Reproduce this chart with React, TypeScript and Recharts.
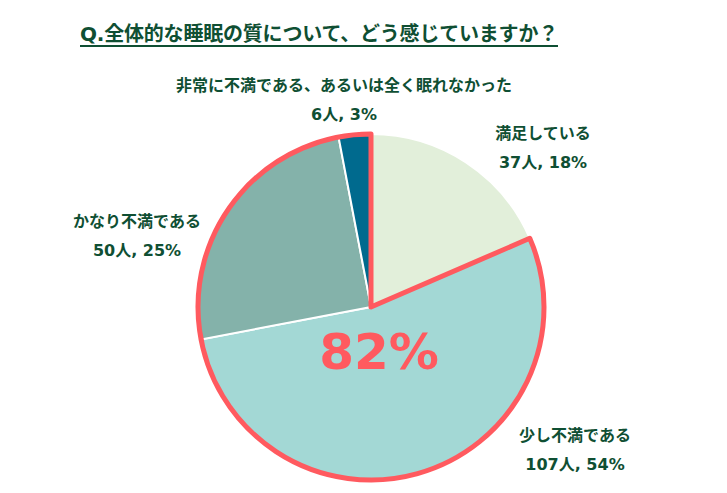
import { PieChart, Pie, Cell } from 'recharts';

const title = 'Q.全体的な睡眠の質について、どう感じていますか？';

// 回答カテゴリと人数（時計回り、12時の位置から）
const categories = ['満足している', '少し不満である', 'かなり不満である', '非常に不満である、あるいは全く眠れなかった'];
const counts = [37, 107, 50, 6];
const percents = [18, 54, 25, 3];
const COLORS = ['#E2EFDA', '#A3D8D5', '#84B2AA', '#006A8E'];

// 不満系の合計（82%）を囲む枠用
const groupNames = ['満足', '不満計'];
const groupCounts = [37, 163];
const highlightLabel = '82%';

const TEXT = '#0F4F33';
const RED = '#FF5A5F';
const FONT = '"DejaVu Sans", "Noto Sans CJK JP", sans-serif';

const pieData = categories.map((name, i) => ({ name, value: counts[i], pct: percents[i] }));
const groupData = groupNames.map((name, i) => ({ name, value: groupCounts[i] }));

// ラベル位置（中心x, 1行目y）
const labelPos = [
  { x: 543, y: 119 },
  { x: 575, y: 421 },
  { x: 137, y: 207 },
  { x: 344, y: 71 },
];

export default function App() {
  return (
    <div style={{ position: 'absolute', left: 0, top: 0, width: 727, height: 493, background: '#fff', fontFamily: FONT }}>
      <div
        style={{
          position: 'absolute',
          left: 80,
          top: 18,
          fontSize: 20,
          fontWeight: 'bold',
          color: TEXT,
          textDecoration: 'underline',
          textUnderlineOffset: 4,
          textDecorationThickness: 2,
          whiteSpace: 'nowrap',
          letterSpacing: -0.2,
        }}
      >
        {title}
      </div>
      <PieChart width={727} height={493} margin={{ top: 0, right: 0, bottom: 0, left: 0 }} style={{ position: 'absolute', left: 0, top: 0 }}>
        <Pie
          data={pieData}
          dataKey="value"
          nameKey="name"
          cx={371}
          cy={307}
          outerRadius={173}
          startAngle={90}
          endAngle={-270}
          stroke="#fff"
          strokeWidth={2}
          isAnimationActive={false}
        >
          {pieData.map((entry, index) => (
            <Cell key={`cell-${index}`} fill={COLORS[index]} />
          ))}
        </Pie>
        <Pie
          data={groupData}
          dataKey="value"
          nameKey="name"
          cx={371}
          cy={307}
          outerRadius={173}
          startAngle={90}
          endAngle={-270}
          fill="none"
          isAnimationActive={false}
        >
          {groupData.map((entry, index) => (
            <Cell
              key={`g-${index}`}
              fill="none"
              stroke={index === 1 ? RED : 'none'}
              strokeWidth={index === 1 ? 5 : 0}
              strokeLinejoin="round"
            />
          ))}
        </Pie>
      </PieChart>
      {pieData.map((d, i) => (
        <div
          key={`lbl-${i}`}
          style={{
            position: 'absolute',
            left: labelPos[i].x - 200,
            top: labelPos[i].y,
            width: 400,
            textAlign: 'center',
            fontSize: 16,
            fontWeight: 'bold',
            color: TEXT,
            lineHeight: '29px',
          }}
        >
          <div>{d.name}</div>
          <div>{`${d.value}人, ${d.pct}%`}</div>
        </div>
      ))}
      <div
        style={{
          position: 'absolute',
          left: 279,
          top: 320,
          width: 200,
          textAlign: 'center',
          fontSize: 50,
          fontWeight: 'bold',
          color: RED,
          lineHeight: '64px',
        }}
      >
        {highlightLabel}
      </div>
    </div>
  );
}
